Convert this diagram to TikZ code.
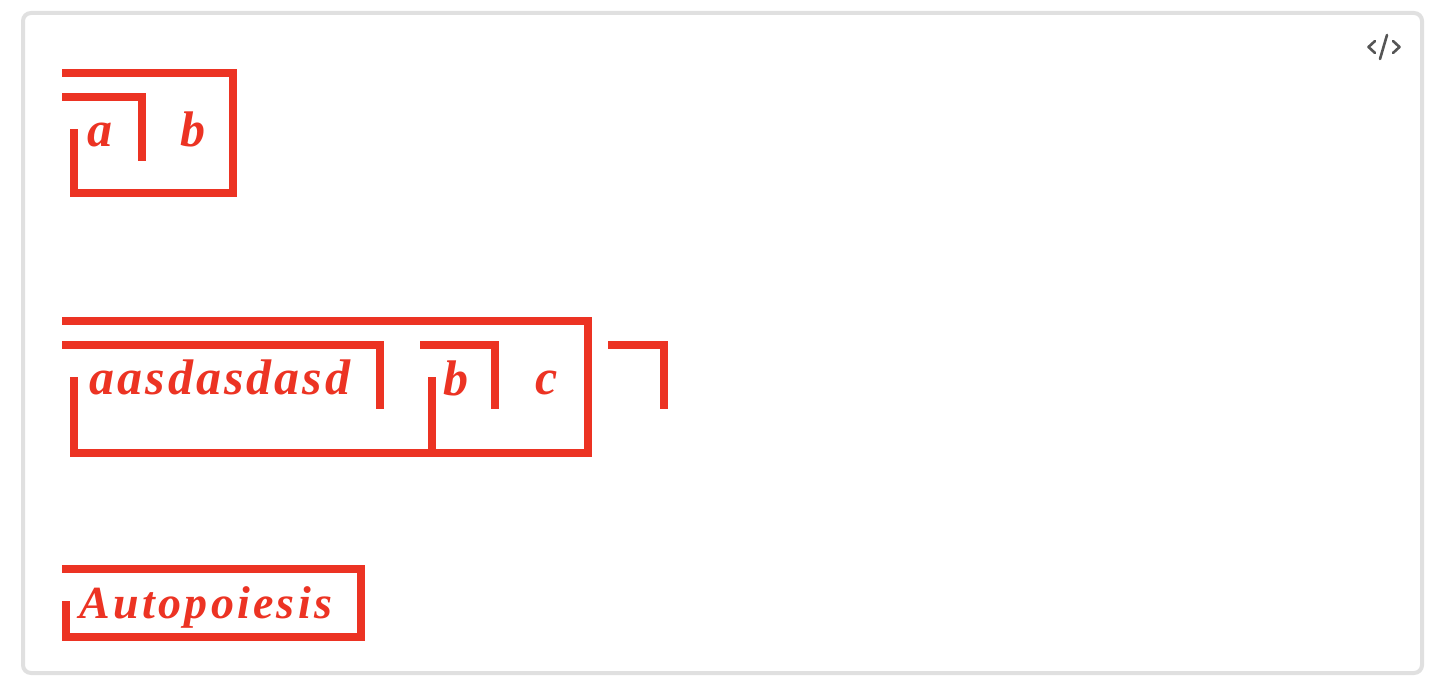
\documentclass[tikz,border=0pt]{standalone}
\usepackage{fontspec}
\definecolor{inkred}{HTML}{EC3323}
\definecolor{framegray}{HTML}{E0E0E0}
\definecolor{icongray}{HTML}{555555}
\newfontfamily\handfont[LetterSpace=6,BoldItalicFeatures={LetterSpace=6}]{Liberation Serif}
\newfontfamily\handfonttight[LetterSpace=7,BoldItalicFeatures={LetterSpace=7}]{Liberation Serif}
\tikzset{
  wire/.style={draw=inkred,line width=8pt,line cap=butt,line join=miter,miter limit=10},
  handtext/.style={text=inkred,inner sep=0pt,anchor=base,font=\handfont\bfseries\itshape\fontsize{50}{50}\selectfont},
  handtitle/.style={handtext,font=\handfonttight\bfseries\itshape\fontsize{46}{46}\selectfont},
  iconline/.style={draw=icongray,line width=2.6pt,line cap=round,line join=round}
}
\begin{document}
\begin{tikzpicture}[x=1pt,y=-1pt]
\useasboundingbox (0,0) rectangle (1450,692);
\fill[white] (0,0) rectangle (1450,692);
\draw[framegray,line width=4pt,rounded corners=8pt] (23,13) rectangle (1422,673);
% icon
\draw[iconline] (1375,41) -- (1368.5,47) -- (1375,53);
\draw[iconline] (1393,41) -- (1399.5,47) -- (1393,53);
\draw[iconline] (1387,35) -- (1380,59);
% diagram 1
\draw[wire] (62,73) -- (233,73) -- (233,193) -- (74,193) -- (74,129);
\draw[wire] (62,97) -- (142,97) -- (142,161);
\node[handtext] (t1a) at (100,147) {a};
\node[handtext] (t1b) at (193,147) {b};
% diagram 2
\draw[wire] (62,321) -- (588,321) -- (588,453) -- (74,453) -- (74,377);
\draw[wire] (62,345) -- (380,345) -- (380,409);
\draw[wire] (420,345) -- (495,345) -- (495,409);
\draw[wire] (432,377) -- (432,453);
\draw[wire] (608,345) -- (664,345) -- (664,409);
\node[handtext] (t2a) at (220,394) {aasdasdasd};
\node[handtext] (t2b) at (456,395) {b};
\node[handtext] (t2c) at (547,394) {c};
% diagram 3
\draw[wire] (62,569) -- (361,569) -- (361,637) -- (66,637) -- (66,601);
\node[handtitle] (t3) at (206,618) {Autopoiesis};
\end{tikzpicture}
\end{document}
